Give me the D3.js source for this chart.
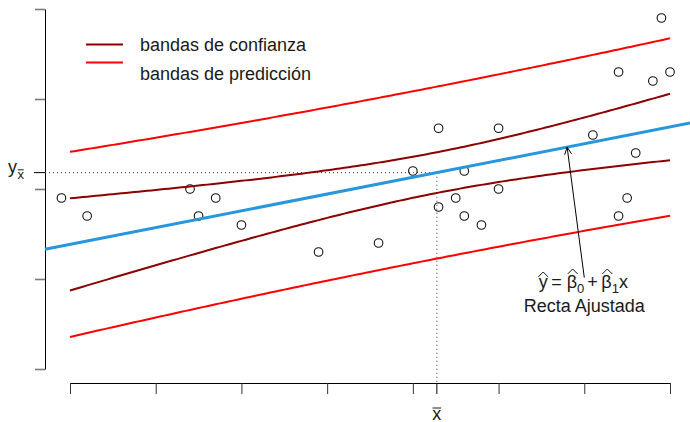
<!DOCTYPE html>
<html>
<head>
<meta charset="utf-8">
<script src="https://cdn.jsdelivr.net/npm/d3@7"></script>
<style>
  body { margin: 0; background: #fff; }
  svg { display: block; }
  text { font-family: "Liberation Sans", Arial, Helvetica, sans-serif; fill: #1a1a1a; }
</style>
</head>
<body>
<svg id="chart" width="690" height="422"></svg>
<script>
// Observed sample (x, y)
const xObs = [9, 12, 24, 25, 27, 30, 39, 46, 50, 53, 53, 55, 56, 56, 58, 60, 60, 71, 74, 74, 75, 76, 78, 79, 80];
const yObs = [58, 54, 60, 54, 58, 52, 46, 48, 64, 73.5, 56, 58, 64, 54, 52, 73.5, 60, 72, 86, 54, 58, 68, 84, 98, 86];

// Axis ticks (unlabelled)
const xTicks = [10, 20, 30, 40, 50, 60, 70, 80];
const yTicks = [20, 40, 60, 80, 100];

// Student t quantiles, 23 df: 95% confidence band, 90% prediction band
const tConf = 2.069;
const tPred = 1.714;

// Legend entries
const legendLabels = ["bandas de confianza", "bandas de predicción"];
const legendColors = ["#8b0000", "#ff0000"];

// Annotation anchor (data units): arrow tail under the fitted line
const arrowTail = [70, 40.3];
const arrowTipX = 68;

const svg = d3.select("#chart");
const plotLeft = 45, plotRight = 690, xAxisY = 383;

const x = d3.scaleLinear().domain([10, 80]).range([70, 670]);
const y = d3.scaleLinear().domain([20, 100]).range([369, 9]);

// Least squares fit
const n = xObs.length;
const xbar = d3.mean(xObs), ybar = d3.mean(yObs);
const sxx = d3.sum(xObs, v => (v - xbar) ** 2);
const sxy = d3.sum(xObs, (v, i) => (v - xbar) * (yObs[i] - ybar));
const b1 = sxy / sxx, b0 = ybar - b1 * xbar;
const rss = d3.sum(xObs, (v, i) => (yObs[i] - b0 - b1 * v) ** 2);
const s = Math.sqrt(rss / (n - 2));
const fit = v => b0 + b1 * v;
const half = (v, tq, extra) => tq * s * Math.sqrt(extra + 1 / n + (v - xbar) ** 2 / sxx);

const grid = d3.range(10, 80.0001, 0.5);
const line = d3.line().x(d => x(d[0])).y(d => y(d[1]));

// Axes
svg.append("g")
  .attr("transform", `translate(${plotLeft},0)`)
  .call(d3.axisLeft(y).tickValues(yTicks).tickSize(10).tickSizeOuter(0).tickFormat(""))
  .call(g => g.select(".domain").attr("stroke", "#000"))
  .call(g => g.selectAll(".tick line").attr("stroke", "#7a7a7a").attr("stroke-width", 1.6));

svg.append("g")
  .attr("transform", `translate(0,${xAxisY})`)
  .call(d3.axisBottom(x).tickValues(xTicks).tickSize(11).tickSizeOuter(0).tickFormat(""))
  .call(g => g.select(".domain").attr("stroke", "#000"))
  .call(g => g.selectAll(".tick line").attr("stroke", "#333"));

const xm = x(xbar), ym = y(ybar);

// Mean ticks
svg.append("line").attr("x1", plotLeft - 11).attr("x2", plotLeft).attr("y1", ym).attr("y2", ym)
  .attr("stroke", "#000");
svg.append("line").attr("x1", xm).attr("x2", xm).attr("y1", xAxisY).attr("y2", xAxisY + 11)
  .attr("stroke", "#000");

// Dotted guides to the mean point
svg.append("path")
  .attr("d", `M${plotLeft},${ym}H${xm}V${xAxisY}`)
  .attr("fill", "none").attr("stroke", "#333").attr("stroke-width", 1)
  .attr("stroke-dasharray", "1,3");

// Mean labels
const yl = svg.append("text").attr("x", 8).attr("y", ym + 0.5).attr("font-size", 18).text("y");
const ylw = yl.node().getComputedTextLength();
const ys = svg.append("text").attr("x", 8 + ylw + 0.5).attr("y", ym + 6.5).attr("font-size", 13).text("x");
const ysw = ys.node().getComputedTextLength();
svg.append("line").attr("x1", 8 + ylw + 0.8).attr("x2", 8 + ylw + ysw + 0.2)
  .attr("y1", ym - 2.8).attr("y2", ym - 2.8).attr("stroke", "#1a1a1a").attr("stroke-width", 1);

svg.append("text").attr("x", xm).attr("y", 419.5).attr("text-anchor", "middle")
  .attr("font-size", 18).text("x");
svg.append("line").attr("x1", xm - 4.3).attr("x2", xm + 4.3).attr("y1", 408).attr("y2", 408)
  .attr("stroke", "#1a1a1a").attr("stroke-width", 1);

// Points
svg.append("g").selectAll("circle")
  .data(xObs.map((v, i) => [v, yObs[i]]))
  .join("circle")
  .attr("cx", d => x(d[0])).attr("cy", d => y(d[1])).attr("r", 4.3)
  .attr("fill", "none").attr("stroke", "#111").attr("stroke-width", 1.1);

// Bands
const bands = [
  { tq: tConf, extra: 0, color: legendColors[0] },
  { tq: tPred, extra: 1, color: legendColors[1] }
];
bands.forEach(b => {
  [1, -1].forEach(sign => {
    svg.append("path")
      .attr("d", line(grid.map(v => [v, fit(v) + sign * half(v, b.tq, b.extra)])))
      .attr("fill", "none").attr("stroke", b.color).attr("stroke-width", 2);
  });
});

// Fitted line across the plot region
const xL = x.invert(plotLeft), xR = x.invert(plotRight);
svg.append("path")
  .attr("d", line([[xL, fit(xL)], [xR, fit(xR)]]))
  .attr("fill", "none").attr("stroke", "#2896dc").attr("stroke-width", 3);

// Legend
legendLabels.forEach((lab, i) => {
  const ly = [44.5, 62.5][i];
  svg.append("line").attr("x1", 86).attr("x2", 123).attr("y1", ly).attr("y2", ly)
    .attr("stroke", legendColors[i]).attr("stroke-width", 2.2);
  svg.append("text").attr("x", 140).attr("y", [51, 79.5][i]).attr("font-size", 18).text(lab);
});

// Arrow to the fitted line
const tx = x(arrowTail[0]), ty = y(arrowTail[1]);
const hx = x(arrowTipX), hy = y(fit(arrowTipX));
svg.append("line").attr("x1", tx).attr("y1", ty).attr("x2", hx).attr("y2", hy)
  .attr("stroke", "#000").attr("stroke-width", 1);
const ang = Math.atan2(ty - hy, tx - hx), hl = 8, ha = Math.PI / 7;
svg.append("path")
  .attr("d", `M${hx + hl * Math.cos(ang - ha)},${hy + hl * Math.sin(ang - ha)}L${hx},${hy}L${hx + hl * Math.cos(ang + ha)},${hy + hl * Math.sin(ang + ha)}`)
  .attr("fill", "none").attr("stroke", "#000").attr("stroke-width", 1);

// Formula: y-hat = beta0-hat + beta1-hat x
const pieces = [
  { t: "y", hat: 11 }, { t: "=", gl: 3.5, gr: 5 }, { t: "β", hat: 14 }, { t: "0", sub: true },
  { t: "+", gl: 3, gr: 3.5 }, { t: "β", hat: 14 }, { t: "1", sub: true }, { t: "x" }
];
const fBase = 288;
const fg = svg.append("g");
let cursor = 0;
pieces.forEach(p => {
  cursor += p.gl || 0;
  const el = fg.append("text").attr("x", cursor).attr("y", p.sub ? fBase + 4.5 : fBase)
    .attr("font-size", p.sub ? 13 : 18).text(p.t);
  const w = el.node().getComputedTextLength();
  if (p.hat) {
    const cx = cursor + w / 2 + (p.t === "y" ? 0 : 0.8);
    fg.append("path")
      .attr("d", `M${cx - 5},${fBase - p.hat}L${cx},${fBase - p.hat - 5}L${cx + 5},${fBase - p.hat}`)
      .attr("fill", "none").attr("stroke", "#1a1a1a").attr("stroke-width", 1);
  }
  cursor += w + (p.gr || 0);
});
fg.attr("transform", `translate(${tx - 1 - cursor / 2},0)`);

svg.append("text").attr("x", tx).attr("y", 311.5).attr("text-anchor", "middle")
  .attr("font-size", 18).text("Recta Ajustada");
</script>
</body>
</html>
